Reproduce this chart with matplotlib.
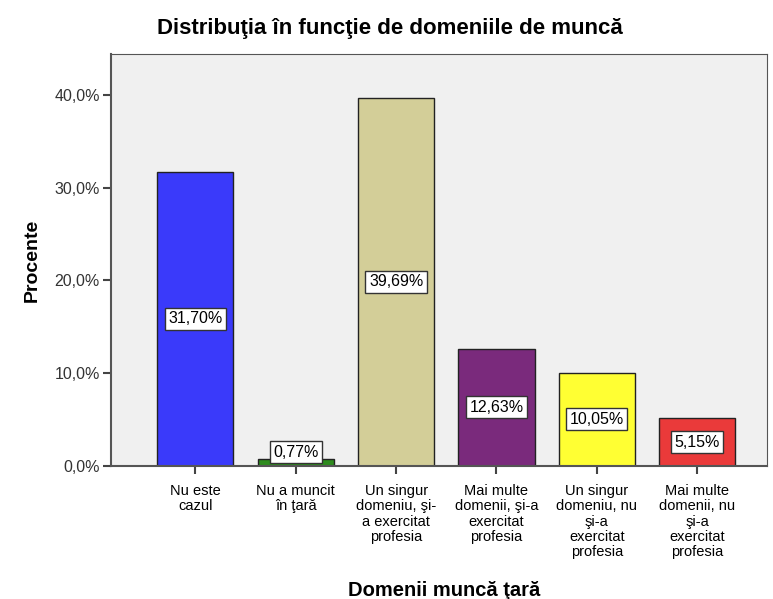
import matplotlib.pyplot as plt
import numpy as np

plt.rcParams['font.family'] = ['Liberation Sans', 'DejaVu Sans']

categories = ['Nu este\ncazul', 'Nu a muncit\nîn ţară', 'Un singur\ndomeniu, şi-\na exercitat\nprofesia',
              'Mai multe\ndomenii, şi-a\nexercitat\nprofesia', 'Un singur\ndomeniu, nu\nşi-a\nexercitat\nprofesia',
              'Mai multe\ndomenii, nu\nşi-a\nexercitat\nprofesia']
values = [31.70, 0.77, 39.69, 12.63, 10.05, 5.15]
colors = ['#3A3AFA', '#2E8B1E', '#D3CE98', '#7A2A7C', '#FFFF33', '#EA3A3A']

fig = plt.figure(figsize=(7.73, 5.99), dpi=100)
ax = fig.add_axes([0.1436, 0.222, 0.848, 0.688])
ax.set_facecolor('#F0F0F0')

x = np.arange(len(values))
ax.bar(x, values, width=0.76, color=colors, edgecolor='#222222', linewidth=1)

for xi, v in zip(x, values):
    y = max(v / 2, 1.5)
    ax.text(xi, y, f'{v:.2f}%'.replace('.', ','), ha='center', va='center', fontsize=11.5,
            bbox=dict(boxstyle='square,pad=0.22', facecolor='white', edgecolor='#333333', linewidth=1))

ax.set_xlim(-0.84, 5.69)
ax.set_ylim(0, 44.4)
ax.set_yticks([0, 10, 20, 30, 40])
ax.set_yticklabels([f'{t:.1f}%'.replace('.', ',') for t in [0, 10, 20, 30, 40]], fontsize=11.5, color='#333333')
ax.set_xticks(x)
ax.set_xticklabels(categories, fontsize=10.5, linespacing=1.12, va='top')
ax.tick_params(axis='both', length=6, width=1.5, color='#444444')
ax.tick_params(axis='x', pad=7)
ax.tick_params(axis='y', pad=2)
for name, s in ax.spines.items():
    s.set_color('#555555')
    s.set_linewidth(1.5 if name in ('left', 'bottom') else 0.8)

ax.set_ylabel('Procente', fontsize=14, fontweight='bold', labelpad=10)
fig.text(0.575, 1 - 590 / 599, 'Domenii muncă ţară', ha='center', va='center',
         fontsize=14.5, fontweight='bold')
fig.text(0.505, 0.953, 'Distribuţia în funcţie de domeniile de muncă', ha='center', va='center',
         fontsize=16, fontweight='bold')

plt.savefig('out.png', dpi=100)
